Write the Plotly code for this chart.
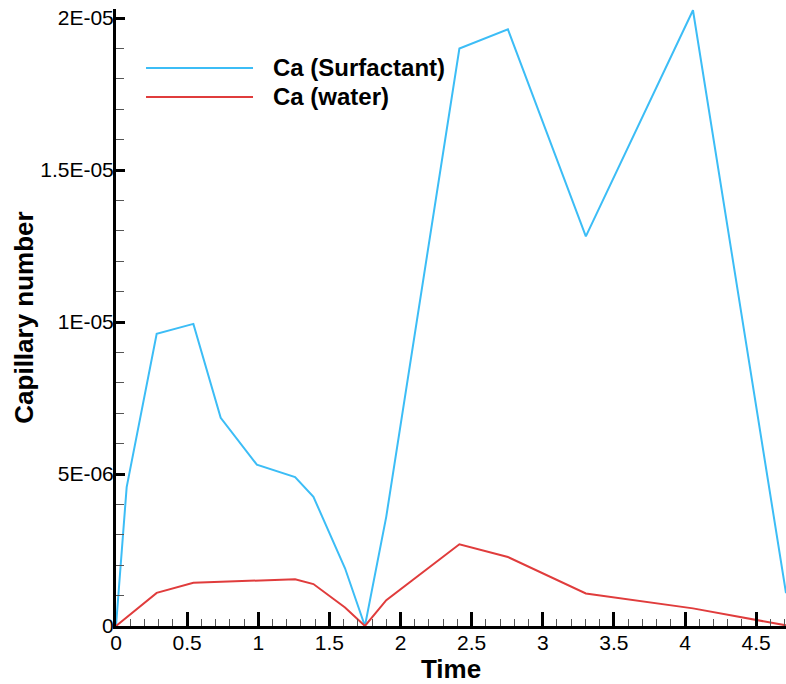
import plotly.graph_objects as go

time_surf = [0, 0.075, 0.286, 0.544, 0.736, 0.99, 1.259, 1.388, 1.61, 1.75, 1.9, 2.414, 2.755, 3.303, 4.056, 4.71]
ca_surf = [0, 4.57e-6, 9.61e-6, 9.94e-6, 6.85e-6, 5.31e-6, 4.90e-6, 4.25e-6, 1.9e-6, 0, 3.6e-6, 1.90e-5, 1.963e-5, 1.282e-5, 2.026e-5, 1.08e-6]

time_water = [0, 0.075, 0.286, 0.544, 0.99, 1.259, 1.388, 1.61, 1.75, 1.9, 2.414, 2.755, 3.303, 4.056, 4.71]
ca_water = [0, 0.28e-6, 1.09e-6, 1.42e-6, 1.51e-6, 1.54e-6, 1.38e-6, 0.61e-6, 0, 0.85e-6, 2.69e-6, 2.27e-6, 1.07e-6, 0.58e-6, 0.02e-6]

x_tickvals = [0, 0.5, 1, 1.5, 2, 2.5, 3, 3.5, 4, 4.5]
x_ticktext = ["0", "0.5", "1", "1.5", "2", "2.5", "3", "3.5", "4", "4.5"]
y_tickvals = [0, 5e-6, 1e-5, 1.5e-5, 2e-5]
y_ticktext = ["0", "5E-06", "1E-05", "1.5E-05", "2E-05"]

names = ["Ca (Surfactant)", "Ca (water)"]
colors = ["#3cbdf6", "#e03c3c"]

FONT = "Liberation Sans, Arial, sans-serif"

fig = go.Figure()
fig.add_trace(go.Scatter(x=time_surf, y=ca_surf, mode="lines", name=names[0],
                         line=dict(color=colors[0], width=2), showlegend=False))
fig.add_trace(go.Scatter(x=time_water, y=ca_water, mode="lines", name=names[1],
                         line=dict(color=colors[1], width=2), showlegend=False))

# legend drawn manually (long line samples as in the reference)
leg_y = [0.9044, 0.8574]
for name, col, yy in zip(names, colors, leg_y):
    fig.add_shape(type="line", xref="paper", yref="paper", x0=0.0448, x1=0.2045, y0=yy, y1=yy,
                  line=dict(color=col, width=2))
    fig.add_annotation(xref="paper", yref="paper", x=0.232, y=yy, text="<b>%s</b>" % name,
                       showarrow=False, xanchor="left", yanchor="middle",
                       font=dict(family=FONT, size=24, color="black"))

fig.update_layout(
    width=786, height=684,
    margin=dict(l=116, r=0, t=9, b=58),
    paper_bgcolor="white", plot_bgcolor="white",
    font=dict(family=FONT, color="black"),
    showlegend=False,
)
fig.update_xaxes(
    range=[0, 4.71], showgrid=False, zeroline=False, automargin=False,
    showline=True, linecolor="black", linewidth=3,
    ticks="inside", ticklen=14, tickwidth=3, tickcolor="black",
    tickvals=x_tickvals, ticktext=x_ticktext,
    tickfont=dict(size=21, family=FONT), ticklabelstandoff=-4,
    minor=dict(ticks="inside", dtick=0.1, tick0=0, ticklen=7, tickwidth=1, tickcolor="#555", showgrid=False),
    title=dict(text="<b>Time</b>", font=dict(size=26, family=FONT), standoff=0),
)
fig.update_yaxes(
    range=[0, 2.03e-5], showgrid=False, zeroline=False, automargin=False,
    showline=True, linecolor="black", linewidth=3,
    ticks="inside", ticklen=9, tickwidth=3, tickcolor="black",
    tickvals=y_tickvals, ticktext=y_ticktext,
    tickfont=dict(size=21, family=FONT), ticklabelstandoff=-5,
    minor=dict(ticks="inside", dtick=1e-6, tick0=0, ticklen=8, tickwidth=1, tickcolor="#555", showgrid=False),
    title=dict(text="<b>Capillary number</b>", font=dict(size=26, family=FONT), standoff=0),
)

fig.write_html("out.html", config={"displayModeBar": False},
               post_script="document.body.style.margin='0';document.body.style.overflow='hidden';")
